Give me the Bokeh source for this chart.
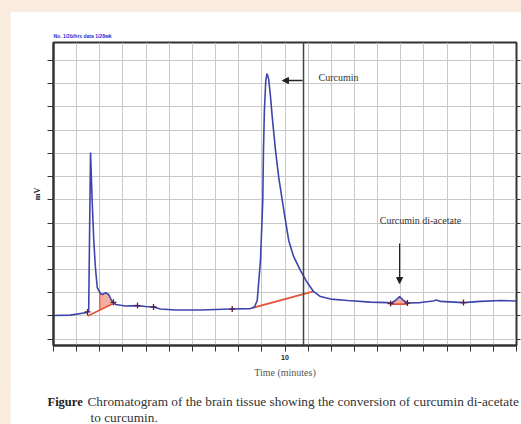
import numpy as np
from bokeh.plotting import figure
from bokeh.models import (Range1d, FixedTicker, LinearAxis, Span, Label, Arrow,
                          NormalHead)
from bokeh.core.properties import value
from bokeh.layouts import column
from bokeh.embed import file_html
from bokeh.resources import INLINE

# ---- data ----
time_min = [0.00, 0.73, 1.45, 1.52, 1.56, 1.60, 1.67, 1.74, 1.81, 1.89, 2.03, 2.12,
            2.25, 2.38, 2.51, 2.68, 3.11, 3.63, 3.97, 4.32, 4.62, 5.27, 6.35, 7.65,
            8.51, 8.68, 8.80, 8.94, 9.04, 9.07, 9.11, 9.17, 9.22, 9.29, 9.37, 9.45,
            9.59, 9.73, 9.95, 10.16, 10.37, 10.67, 10.93, 11.23, 11.53, 11.97, 12.70,
            13.69, 14.43, 14.56, 14.77, 14.95, 15.12, 15.29, 15.85, 16.41, 16.54,
            16.72, 17.71, 18.44, 19.31, 20.00]
signal_mv = [1.01, 1.03, 1.14, 1.23, 4.68, 8.04, 5.97, 4.25, 3.08, 2.22, 1.96, 1.92,
             2.00, 1.92, 1.66, 1.49, 1.42, 1.44, 1.40, 1.38, 1.29, 1.25, 1.25, 1.29,
             1.31, 1.38, 1.66, 3.38, 5.97, 8.13, 9.85, 11.14, 11.44, 11.23, 10.49, 9.55,
             8.13, 6.96, 5.54, 4.25, 3.56, 2.95, 2.48, 2.05, 1.83, 1.72, 1.66,
             1.59, 1.57, 1.53, 1.66, 1.83, 1.66, 1.55, 1.57, 1.64, 1.68,
             1.62, 1.57, 1.62, 1.66, 1.64]

base1_t = [1.47, 2.59]
base1_y = [0.99, 1.53]
base2_t = [8.60, 11.23]
base2_y = [1.34, 2.05]
base3_t = [14.56, 15.29]
base3_y = [1.50, 1.50]
fill1_range = [2.00, 2.57]
fill3_range = [14.60, 15.25]

event_t = [1.47, 2.59, 3.63, 4.32, 7.72, 14.56, 15.29, 17.71]

x_ticks = list(range(0, 21))
y_ticks = list(range(0, 13))
x_tick_label = {10: "10"}

caption_bold = "Figure"
caption_line1 = "Chromatogram of the brain tissue showing the conversion of curcumin di-acetate"
caption_line2 = "to curcumin."

BLUE = "#3d45ad"
RED = "#e2573c"
DARK = "#333333"
SERIF = "Liberation Serif"
BEIGE = "#F9EBDE"

p = figure(width=511, height=377, x_range=Range1d(0, 20), y_range=Range1d(-0.28, 12.78),
           output_backend="svg", toolbar_location=None,
           min_border_left=43, min_border_right=5, min_border_top=31, min_border_bottom=43,
           background_fill_color="white", border_fill_color="white")
p.margin = (11, 0, 0, 10)

p.title.text = "No. 1/2b/hrs  data 1/28wk"
p.title.text_font_size = "5px"
p.title.text_color = "#2a2ad0"
p.title.text_font_style = "bold"
p.title.standoff = 7

p.outline_line_color = DARK
p.outline_line_width = 2

p.xaxis.ticker = FixedTicker(ticks=x_ticks)
p.xaxis.major_label_overrides = {t: x_tick_label.get(t, "") for t in x_ticks}
p.xaxis.major_label_text_font_size = "7px"
p.xaxis.major_label_text_font_style = "bold"
p.xaxis.major_label_text_color = "#222222"
p.xaxis.major_label_standoff = 3
p.xaxis.major_tick_out = 6
p.xaxis.major_tick_in = 0
p.xaxis.minor_tick_line_color = None
p.xaxis.axis_line_color = DARK
p.xaxis.axis_line_width = 2
p.xaxis.major_tick_line_color = DARK
p.xaxis.axis_label = "Time (minutes)"
p.xaxis.axis_label_text_font = SERIF
p.xaxis.axis_label_text_font_size = "10px"
p.xaxis.axis_label_text_font_style = "normal"
p.xaxis.axis_label_text_color = "#555555"
p.xaxis.axis_label_standoff = 4

p.yaxis.ticker = FixedTicker(ticks=y_ticks)
p.yaxis.major_label_overrides = {t: "" for t in y_ticks}
p.yaxis.major_label_text_font_size = "6px"
p.yaxis.major_label_standoff = 0
p.yaxis.major_tick_out = 6
p.yaxis.major_tick_in = 0
p.yaxis.minor_tick_line_color = None
p.yaxis.axis_line_color = DARK
p.yaxis.axis_line_width = 2
p.yaxis.major_tick_line_color = DARK
p.yaxis.axis_label = "mV"
p.yaxis.axis_label_text_font = SERIF
p.yaxis.axis_label_text_font_size = "8px"
p.yaxis.axis_label_text_font_style = "bold"
p.yaxis.axis_label_text_color = "#222222"
p.yaxis.axis_label_standoff = 6

right_axis = LinearAxis(ticker=FixedTicker(ticks=y_ticks),
                        major_label_overrides={t: "" for t in y_ticks},
                        major_label_text_font_size="6px",
                        major_label_standoff=0, major_tick_out=4, major_tick_in=0,
                        minor_tick_line_color=None, axis_line_color=DARK,
                        major_tick_line_color=DARK)
p.add_layout(right_axis, "right")

p.grid.grid_line_color = "#c8c8c8"
p.grid.grid_line_width = 1

# vertical marker line
p.add_layout(Span(location=10.8, dimension="height", line_color="#444444", line_width=1.5))

tt = np.array(time_min)
yy = np.array(signal_mv)

# red shaded areas under small peaks
for rng, bt, by in [(fill1_range, base1_t, base1_y), (fill3_range, base3_t, base3_y)]:
    mask = (tt > rng[0]) & (tt < rng[1])
    ft = np.concatenate([[rng[0]], tt[mask], [rng[1]]])
    fy = np.interp(ft, tt, yy)
    fb = np.interp(ft, bt, by)
    p.varea(x=ft, y1=fb, y2=fy, fill_color="#f29a86", fill_alpha=0.8)
    p.segment(x0=[rng[0]], y0=[np.interp(rng[0], bt, by)], x1=[rng[0]],
              y1=[np.interp(rng[0], tt, yy)], line_color=RED, line_width=1.2)

# baselines
for bt, by in [(base1_t, base1_y), (base2_t, base2_y), (base3_t, base3_y)]:
    p.line(bt, by, line_color=RED, line_width=1.8)

# trace
p.line(time_min, signal_mv, line_color=BLUE, line_width=1.6)

# integration event marks
ev_y = np.interp(event_t, tt, yy)
p.scatter(event_t, ev_y, marker="cross", size=6, line_color="#5a2040", line_width=1.3)

# annotations
p.add_layout(Label(x=11.45, y=11.27, text="Curcumin", text_font=SERIF, text_font_size="10px",
                   text_color=DARK, text_baseline="middle", text_align="left"))
p.add_layout(Arrow(end=NormalHead(size=6, fill_color="#222222", line_color="#222222"),
                   x_start=10.76, y_start=11.14, x_end=9.89, y_end=11.14,
                   line_color="#222222", line_width=1.5))
p.add_layout(Label(x=15.85, y=5.11, text="Curcumin di-acetate", text_font=SERIF,
                   text_font_size="10px", text_color=DARK, text_baseline="middle",
                   text_align="center"))
p.add_layout(Arrow(end=NormalHead(size=6, fill_color="#222222", line_color="#222222"),
                   x_start=14.95, y_start=4.12, x_end=14.95, y_end=2.39,
                   line_color="#222222", line_width=1.2))

# caption strip below the chart (pixel coordinates, y measured from its top)
cap = figure(width=511, height=37, x_range=Range1d(0, 511), y_range=Range1d(37, 0),
             output_backend="svg", toolbar_location=None, x_axis_type=None, y_axis_type=None,
             min_border=0, outline_line_color=None,
             background_fill_color="white", border_fill_color="white")
cap.margin = (-1, 0, 0, 10)
cap.text(x=[37], y=[14], text=[caption_bold], text_font=value(SERIF), text_font_size="12.5px",
         text_font_style="bold", text_color="#222222", text_baseline="middle")
cap.text(x=[77, 80], y=[14, 29.5], text=[caption_line1, caption_line2], text_font=value(SERIF),
         text_font_size="13.3px", text_color="#333333", text_baseline="middle")

top_block = column(p, styles={"background-color": BEIGE})
bottom_block = column(cap, styles={"background-color": BEIGE})
open("out.html", "w").write(file_html([top_block, bottom_block], INLINE))
